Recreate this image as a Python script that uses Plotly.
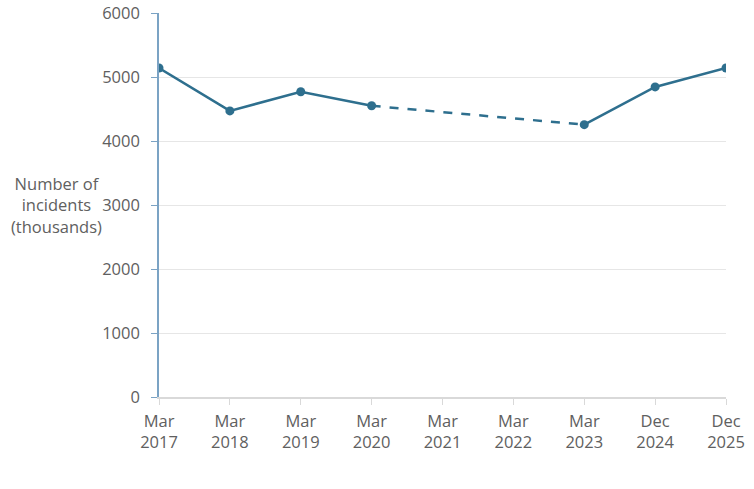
import plotly.graph_objects as go

# categories on the x axis (evenly spaced)
periods = ["Mar<br>2017", "Mar<br>2018", "Mar<br>2019", "Mar<br>2020", "Mar<br>2021",
           "Mar<br>2022", "Mar<br>2023", "Dec<br>2024", "Dec<br>2025"]
# incidents in thousands; no survey in 2021 and 2022
incidents = [5140, 4470, 4770, 4550, None, None, 4255, 4845, 5140]
# the gap is bridged with a dashed segment
gap_start, gap_end = 3, 6

x_idx = list(range(len(periods)))
line_col = "#2e6f8e"
text_col = "#606060"
font_family = "Open Sans"
font_size = 16.5

fig = go.Figure()

fig.add_trace(go.Scatter(
    x=[x_idx[gap_start], x_idx[gap_end]],
    y=[incidents[gap_start], incidents[gap_end]],
    mode="lines",
    line=dict(color=line_col, width=2.5, dash="dash"),
    hoverinfo="skip",
))

fig.add_trace(go.Scatter(
    x=x_idx,
    y=incidents,
    mode="lines+markers",
    connectgaps=False,
    line=dict(color=line_col, width=2.5),
    marker=dict(color=line_col, size=9),
    hovertemplate="%{y}<extra></extra>",
))

fig.add_annotation(
    text="Number of<br>incidents<br>(thousands)",
    xref="paper", yref="paper",
    x=-0.18, y=0.50,
    xanchor="center", yanchor="middle",
    showarrow=False,
    align="center",
    font=dict(family=font_family, size=font_size, color=text_col),
)

fig.update_xaxes(
    tickmode="array",
    tickvals=x_idx,
    ticktext=periods,
    range=[0, len(periods) - 1],
    automargin=False,
    showgrid=False,
    zeroline=False,
    showline=True,
    linecolor="#d9d9d9",
    linewidth=1.5,
    ticks="outside",
    ticklen=6,
    tickcolor="#d9d9d9",
    ticklabelstandoff=2,
    tickfont=dict(family=font_family, size=font_size, color=text_col),
)

fig.update_yaxes(
    range=[0, 6000],
    tickvals=[0, 1000, 2000, 3000, 4000, 5000, 6000],
    automargin=False,
    showgrid=True,
    gridcolor="#e6e6e6",
    gridwidth=1,
    zeroline=False,
    showline=True,
    linecolor="#7ba3c4",
    linewidth=1.5,
    ticks="outside",
    ticklen=6,
    tickcolor="#7ba3c4",
    ticklabelstandoff=8,
    tickfont=dict(family=font_family, size=font_size, color=text_col),
)

fig.update_layout(
    width=754,
    height=489,
    margin=dict(l=159, r=28, t=13, b=92),
    plot_bgcolor="white",
    paper_bgcolor="white",
    showlegend=False,
)

fig.write_html(
    "out.html",
    config={"displayModeBar": False},
    post_script="document.body.style.margin = '0';",
)
